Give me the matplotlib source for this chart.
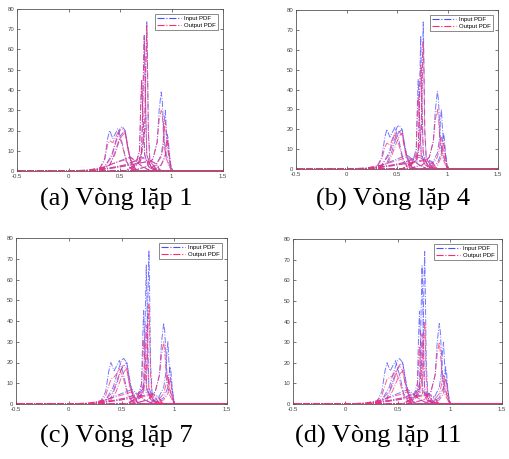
import numpy as np
from matplotlib import pyplot as plt
from matplotlib.lines import Line2D

# x support of each PDF curve (shared by input and output curves)
curve_x = [
    [0.20, 0.30, 0.35, 0.38, 0.40, 0.43, 0.46, 0.48, 0.52, 0.56, 0.60, 0.66],
    [0.25, 0.35, 0.42, 0.46, 0.50, 0.52, 0.55, 0.57, 0.60, 0.65, 0.70],
    [0.30, 0.40, 0.45, 0.50, 0.53, 0.55, 0.58, 0.62, 0.68],
    [0.55, 0.65, 0.69, 0.70, 0.71, 0.72, 0.74, 0.78, 0.85],
    [0.55, 0.68, 0.71, 0.72, 0.73, 0.735, 0.745, 0.76, 0.80, 0.88],
    [0.60, 0.70, 0.74, 0.75, 0.76, 0.765, 0.775, 0.79, 0.85, 0.92],
    [0.60, 0.75, 0.82, 0.86, 0.88, 0.90, 0.91, 0.93, 0.95, 0.98, 1.00],
    [0.75, 0.85, 0.90, 0.92, 0.93, 0.94, 0.95, 0.97, 0.99, 1.00],
    [0.80, 0.90, 0.94, 0.95, 0.96, 0.97, 0.98, 0.99, 1.00],
    [0.00, 0.20, 0.40, 0.55, 0.65, 0.70, 0.74, 0.78, 0.82, 0.86],
    [0.00, 0.20, 0.35, 0.45, 0.55, 0.60, 0.65, 0.72, 0.80],
    [0.10, 0.30, 0.50, 0.70, 0.80, 0.85, 0.88, 0.90],
]

pdf_in = [
    [0, 1, 6, 16, 20, 16, 19, 21, 14, 5, 1.5, 0],
    [0, 2, 8, 15, 21, 22, 20, 14, 6, 1, 0],
    [0, 3, 9, 17, 19, 20, 10, 2, 0],
    [0, 3, 10, 30, 45, 30, 8, 2, 0],
    [0, 4, 10, 30, 55, 67, 40, 8, 2, 0],
    [0, 5, 20, 50, 74, 60, 20, 5, 1, 0],
    [0, 2, 6, 14, 30, 39, 35, 15, 8, 3, 0],
    [0, 3, 8, 15, 25, 30, 20, 10, 4, 0],
    [0, 3, 8, 14, 18, 15, 8, 4, 0],
    [0, 0.3, 1.5, 3, 5, 7, 6.5, 4, 1, 0],
    [0, 0.5, 2, 4, 6, 7, 5, 2, 0],
    [0, 0.5, 2, 4, 5, 3.5, 1, 0],
]

pdf_out_1 = [
    [0, 1, 5, 13, 15, 14, 17, 19, 13, 5, 1.5, 0],
    [0, 2, 7, 14, 20, 21, 19, 13, 6, 1, 0],
    [0, 3, 8, 16, 18, 19, 10, 2, 0],
    [0, 3, 10, 30, 45, 30, 8, 2, 0],
    [0, 4, 10, 30, 55, 66, 40, 8, 2, 0],
    [0, 5, 20, 50, 72, 60, 20, 5, 1, 0],
    [0, 2, 6, 14, 25, 30, 28, 12, 6, 2, 0],
    [0, 3, 7, 12, 20, 25, 17, 8, 3, 0],
    [0, 3, 7, 12, 16, 13, 7, 3, 0],
    [0, 0.3, 1.5, 3, 5, 6.5, 6, 4, 1, 0],
    [0, 0.5, 2, 4, 5.5, 6.5, 5, 2, 0],
    [0, 0.5, 2, 4, 5, 3.5, 1, 0],
]

pdf_out_4 = [
    [0, 1, 5, 11, 13, 12, 16, 18, 12, 4, 1, 0],
    [0, 2, 7, 13, 18, 19, 17, 12, 5, 1, 0],
    [0, 2, 7, 14, 17, 18, 9, 2, 0],
    [0, 3, 8, 24, 36, 24, 6, 2, 0],
    [0, 4, 9, 25, 45, 52, 32, 7, 2, 0],
    [0, 5, 18, 45, 64, 52, 18, 5, 1, 0],
    [0, 2, 6, 14, 25, 30, 26, 11, 6, 2, 0],
    [0, 2, 6, 10, 14, 16, 12, 6, 3, 0],
    [0, 2, 6, 10, 13, 11, 6, 3, 0],
    [0, 0.3, 1.5, 3, 4.5, 6, 5.5, 3.5, 1, 0],
    [0, 0.5, 2, 3.5, 5, 6, 4.5, 2, 0],
    [0, 0.5, 2, 3.5, 4.5, 3, 1, 0],
]

pdf_out_7 = [
    [0, 1, 4, 9, 12, 13, 15, 17, 12, 4, 1, 0],
    [0, 2, 6, 12, 17, 19, 17, 11, 5, 1, 0],
    [0, 2, 6, 13, 16, 17, 8, 2, 0],
    [0, 3, 8, 20, 31, 20, 6, 2, 0],
    [0, 3, 8, 18, 32, 38, 24, 6, 2, 0],
    [0, 4, 14, 34, 48, 40, 14, 4, 1, 0],
    [0, 2, 6, 14, 24, 30, 25, 11, 5, 2, 0],
    [0, 2, 5, 9, 12, 14, 10, 5, 2, 0],
    [0, 2, 5, 9, 12, 10, 5, 2, 0],
    [0, 0.3, 1.5, 3, 4.5, 6, 5.5, 3.5, 1, 0],
    [0, 0.5, 2, 3.5, 5, 6, 4.5, 2, 0],
    [0, 0.5, 2, 3.5, 4.5, 3, 1, 0],
]

pdf_out_11 = [
    [0, 1, 4, 9, 12, 13, 14, 16, 11, 4, 1, 0],
    [0, 2, 6, 12, 17, 19, 16, 11, 5, 1, 0],
    [0, 2, 6, 12, 15, 16, 8, 2, 0],
    [0, 3, 7, 18, 28, 18, 5, 2, 0],
    [0, 3, 7, 16, 28, 34, 22, 6, 2, 0],
    [0, 4, 12, 28, 40, 34, 12, 4, 1, 0],
    [0, 2, 6, 14, 24, 30, 25, 11, 5, 2, 0],
    [0, 2, 5, 9, 13, 14, 10, 5, 2, 0],
    [0, 2, 5, 9, 12, 10, 5, 2, 0],
    [0, 0.3, 1.5, 3, 4.5, 6, 5.5, 3.5, 1, 0],
    [0, 0.5, 2, 3.5, 5, 6, 4.5, 2, 0],
    [0, 0.5, 2, 3.5, 4.5, 3, 1, 0],
]

captions = ["(a) Vòng lặp 1", "(b) Vòng lặp 4", "(c) Vòng lặp 7", "(d) Vòng lặp 11"]
xticks = [-0.5, 0, 0.5, 1, 1.5]
xtick_labels = ["-0.5", "0", "0.5", "1", "1.5"]
yticks = [0, 10, 20, 30, 40, 50, 60, 70, 80]

X_MIN, X_MAX = -0.5, 1.5
IN_COLOR = "#4a4aff"
OUT_COLOR = "#ff2a6e"

# axes rectangles in pixels: left, top, right, bottom
W, H = 509, 459
boxes = [(17, 9, 223, 171), (296, 10, 498, 169),
         (16, 238, 227, 404), (293, 239, 502, 404)]
caption_pos = [(116, 199), (393, 199), (116, 436), (378, 436)]


def draw_curve(ax, xs, ys, color):
    x = [X_MIN] + list(xs) + [X_MAX]
    y = [0] + list(ys) + [0]
    ax.plot(x, y, linestyle="-.", color=color, lw=0.7, alpha=0.75)


def main():
    fig = plt.figure(figsize=(W / 100, H / 100), dpi=100)
    outputs = [pdf_out_1, pdf_out_4, pdf_out_7, pdf_out_11]
    for box, out, cap, cpos in zip(boxes, outputs, captions, caption_pos):
        l, t, r, b = box
        ax = fig.add_axes([l / W, 1 - b / H, (r - l) / W, (b - t) / H])
        for xs, ys in zip(curve_x, pdf_in):
            draw_curve(ax, xs, ys, IN_COLOR)
        for xs, ys in zip(curve_x, out):
            draw_curve(ax, xs, ys, OUT_COLOR)
        ax.set_xlim(X_MIN, X_MAX)
        ax.set_ylim(0, 80)
        ax.set_xticks(xticks)
        ax.set_xticklabels(xtick_labels)
        ax.set_yticks(yticks)
        ax.tick_params(direction="in", length=2, width=0.5, labelsize=4.3,
                       colors="#444444", top=True, right=True, pad=2)
        for s in ax.spines.values():
            s.set_color("#555555")
            s.set_linewidth(0.6)
        handles = [Line2D([], [], color=IN_COLOR, ls="-.", lw=0.8),
                   Line2D([], [], color=OUT_COLOR, ls="-.", lw=0.8)]
        leg = ax.legend(handles, ["Input PDF", "Output PDF"],
                        loc="upper right", frameon=True, fancybox=False,
                        handlelength=4, borderpad=0.4, labelspacing=0.2,
                        handletextpad=0.5, borderaxespad=0.8,
                        prop={"family": "Liberation Sans", "size": 4.3})
        leg.get_frame().set_edgecolor("#555555")
        leg.get_frame().set_linewidth(0.6)
        for lab in ax.get_xticklabels() + ax.get_yticklabels():
            lab.set_family("Liberation Sans")
        fig.text(cpos[0] / W, 1 - cpos[1] / H, cap, ha="center", va="center",
                 fontsize=19, family="Liberation Serif")
    fig.savefig("out.png", dpi=100)


if __name__ == "__main__":
    main()
